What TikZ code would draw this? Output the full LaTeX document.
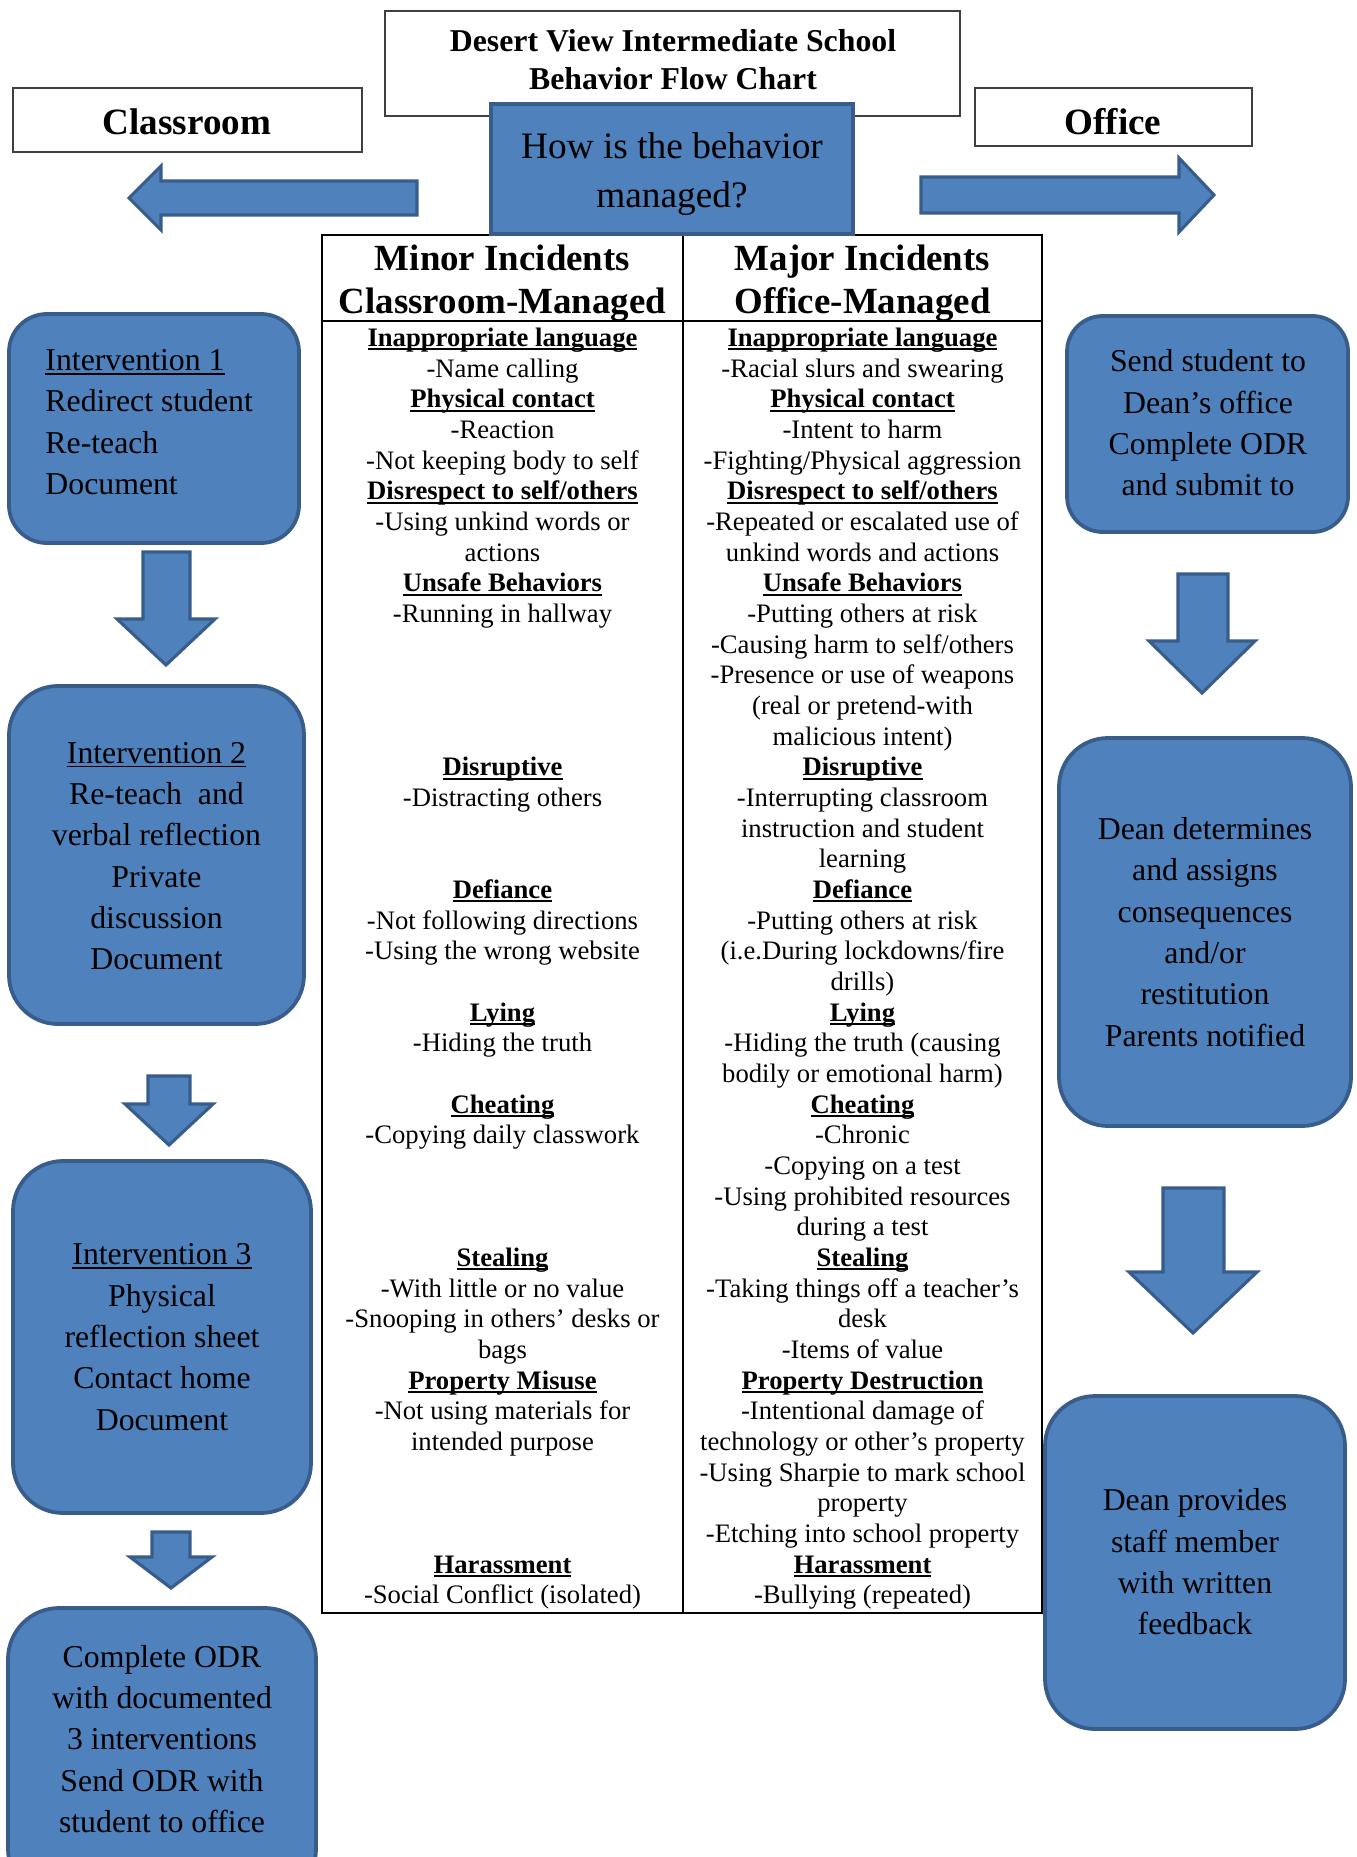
\documentclass[tikz,border=0pt]{standalone}
\usepackage{fontspec}
\setmainfont{Liberation Serif}
\usetikzlibrary{fit}
\definecolor{bfill}{HTML}{4F81BD}
\definecolor{bborder}{HTML}{385D8A}
\newcommand{\fsz}[2]{\fontsize{#1}{#2}\selectfont}
\newsavebox{\ulbox}
% underline close to the baseline: #1 drop, #2 thickness, #3 text
\newcommand{\ulx}[3]{\sbox{\ulbox}{#3}\rlap{\rule[-#1]{\wd\ulbox}{#2}}\usebox{\ulbox}}
\newcommand{\hdg}[1]{\ulx{1.7pt}{0.8pt}{\textbf{#1}}}
% down block arrow: shaft left, shaft right, top, head base, head left, head right, tip x, tip y
\newcommand{\dnarrow}[8]{%
  \draw[blockarrow] (#1,#3) -- (#2,#3) -- (#2,#4) -- (#6,#4) -- (#7,#8) -- (#5,#4) -- (#1,#4) -- cycle;}
\begin{document}
\begin{tikzpicture}[x=0.45pt,y=-0.45pt,
  bluebox/.style={draw=bborder, fill=bfill, line width=1.7pt, inner sep=0pt},
  boxtext/.style={inner sep=0pt, align=center, font=\fsz{14.3pt}{18.6pt}},
  whitebox/.style={draw=black!75, line width=0.9pt, fill=white, inner sep=0pt},
  blockarrow/.style={draw=bborder, fill=bfill, line width=1.4pt, line join=miter},
  colstyle/.style={font=\fsz{12pt}{13.8pt}, align=center, inner sep=0pt, anchor=north},
  hdstyle/.style={font=\bfseries\fsz{16.6pt}{19.4pt}, align=center, inner sep=0pt},
  txt/.style={inner sep=0pt, align=center}]
\clip (0,0) rectangle (1356,1857);
\fill[white] (0,0) rectangle (1356,1857);

% title and side headings
\node[whitebox, fit={(385,11) (960,116)}] (title) {};
\node[txt, font=\bfseries\fsz{14.3pt}{17.1pt}] (titletext) at (673,60)
  {Desert View Intermediate School\\Behavior Flow Chart};
\node[whitebox, fit={(13,88) (362,152)}] (classroom) {};
\node[txt, font=\bfseries\fsz{16.7pt}{20pt}] (classroomtext) at (187,122) {Classroom};
\node[whitebox, fit={(975,88) (1252,146)}] (office) {};
\node[txt, font=\bfseries\fsz{16.7pt}{20pt}] (officetext) at (1113,122) {Office};

% side block arrows
\draw[blockarrow] (417,181) -- (161,181) -- (161,166) -- (129,198) -- (161,230) -- (161,215) -- (417,215) -- cycle;
\draw[blockarrow] (921,177) -- (1179,177) -- (1179,158) -- (1214,195) -- (1179,232) -- (1179,213) -- (921,213) -- cycle;

% table
\node[draw=black, line width=1pt, inner sep=0pt, fit={(322,235) (1042,1613)}] (table) {};
\draw[line width=1pt] (table.west |- 0,321) -- (table.east |- 0,321);
\draw[line width=1pt] (683,0 |- table.north) -- (683,0 |- table.south);
\node[hdstyle] (minorhd) at (502.5,283) {Minor Incidents\\Classroom-Managed};
\node[hdstyle] (majorhd) at (862.5,283) {Major Incidents\\Office-Managed};

\node[colstyle] (minorcol) at (502.5,324.5) {%
\strut\hdg{Inappropriate language}\\
\strut -Name calling\\
\strut\hdg{Physical contact}\\
\strut -Reaction\\
\strut -Not keeping body to self\\
\strut\hdg{Disrespect to self/others}\\
\strut -Using unkind words or\\
\strut actions\\
\strut\hdg{Unsafe Behaviors}\\
\strut -Running in hallway\\
\strut\\
\strut\\
\strut\\
\strut\\
\strut\hdg{Disruptive}\\
\strut -Distracting others\\
\strut\\
\strut\\
\strut\hdg{Defiance}\\
\strut -Not following directions\\
\strut -Using the wrong website\\
\strut\\
\strut\hdg{Lying}\\
\strut -Hiding the truth\\
\strut\\
\strut\hdg{Cheating}\\
\strut -Copying daily classwork\\
\strut\\
\strut\\
\strut\\
\strut\hdg{Stealing}\\
\strut -With little or no value\\
\strut -Snooping in others’ desks or\\
\strut bags\\
\strut\hdg{Property Misuse}\\
\strut -Not using materials for\\
\strut intended purpose\\
\strut\\
\strut\\
\strut\\
\strut\hdg{Harassment}\\
\strut -Social Conflict (isolated)};

\node[colstyle] (majorcol) at (862.5,324.5) {%
\strut\hdg{Inappropriate language}\\
\strut -Racial slurs and swearing\\
\strut\hdg{Physical contact}\\
\strut -Intent to harm\\
\strut -Fighting/Physical aggression\\
\strut\hdg{Disrespect to self/others}\\
\strut -Repeated or escalated use of\\
\strut unkind words and actions\\
\strut\hdg{Unsafe Behaviors}\\
\strut -Putting others at risk\\
\strut -Causing harm to self/others\\
\strut -Presence or use of weapons\\
\strut (real or pretend-with\\
\strut malicious intent)\\
\strut\hdg{Disruptive}\\
\strut -Interrupting classroom\\
\strut instruction and student\\
\strut learning\\
\strut\hdg{Defiance}\\
\strut -Putting others at risk\\
\strut (i.e.During lockdowns/fire\\
\strut drills)\\
\strut\hdg{Lying}\\
\strut -Hiding the truth (causing\\
\strut bodily or emotional harm)\\
\strut\hdg{Cheating}\\
\strut -Chronic\\
\strut -Copying on a test\\
\strut -Using prohibited resources\\
\strut during a test\\
\strut\hdg{Stealing}\\
\strut -Taking things off a teacher’s\\
\strut desk\\
\strut -Items of value\\
\strut\hdg{Property Destruction}\\
\strut -Intentional damage of\\
\strut technology or other’s property\\
\strut -Using Sharpie to mark school\\
\strut property\\
\strut -Etching into school property\\
\strut\hdg{Harassment}\\
\strut -Bullying (repeated)};

% central question box
\node[bluebox, fit={(491,104) (853,234)}] (question) {};
\node[txt, font=\fsz{16.8pt}{22pt}] (questiontext) at (672,174.5) {How is the behavior\\managed?};

% classroom column
\node[bluebox, rounded corners=17pt, fit={(9,314) (299,543)}] (int1) {};
\node[boxtext, align=left, anchor=west] (int1text) at (45,422)
  {\ulx{2pt}{0.8pt}{Intervention 1}\\Redirect student\\Re-teach\\Document};
\dnarrow{143}{190}{552}{619}{117}{215}{166}{665}
\node[bluebox, rounded corners=22pt, fit={(9,686) (304,1024)}] (int2) {};
\node[boxtext] (int2text) at (156.5,856)
  {\ulx{2pt}{0.8pt}{Intervention 2}\\Re-teach~ and\\verbal reflection\\Private\\discussion\\Document};
\dnarrow{148}{190}{1076}{1104}{125}{213}{169}{1145}
\node[bluebox, rounded corners=22.5pt, fit={(13,1161) (311,1513)}] (int3) {};
\node[boxtext] (int3text) at (162,1337)
  {\ulx{2pt}{0.8pt}{Intervention 3}\\Physical\\reflection sheet\\Contact home\\Document};
\dnarrow{152}{190}{1532}{1557}{130}{212}{171}{1588}
\node[bluebox, rounded corners=23pt, fit={(8,1608) (316,1900)}] (odr) {};
\node[boxtext] (odrtext) at (162,1739)
  {Complete ODR\\with documented\\3 interventions\\Send ODR with\\student to office};

% office column
\node[bluebox, rounded corners=16pt, fit={(1067,316) (1348,532)}] (send) {};
\node[boxtext] (sendtext) at (1208,423)
  {Send student to\\Dean’s office\\Complete ODR\\and submit to};
\dnarrow{1178}{1228}{574}{641}{1149}{1255}{1202}{693}
\node[bluebox, rounded corners=22pt, fit={(1059,738) (1351,1126)}] (dean) {};
\node[boxtext] (deantext) at (1205,932)
  {Dean determines\\and assigns\\consequences\\and/or\\restitution\\Parents notified};
\dnarrow{1163}{1224}{1188}{1272}{1129}{1257}{1193}{1333}
\node[bluebox, rounded corners=22.5pt, fit={(1045,1396) (1345,1729)}] (feedback) {};
\node[boxtext] (feedbacktext) at (1195,1562)
  {Dean provides\\staff member\\with written\\feedback};
\end{tikzpicture}
\end{document}
